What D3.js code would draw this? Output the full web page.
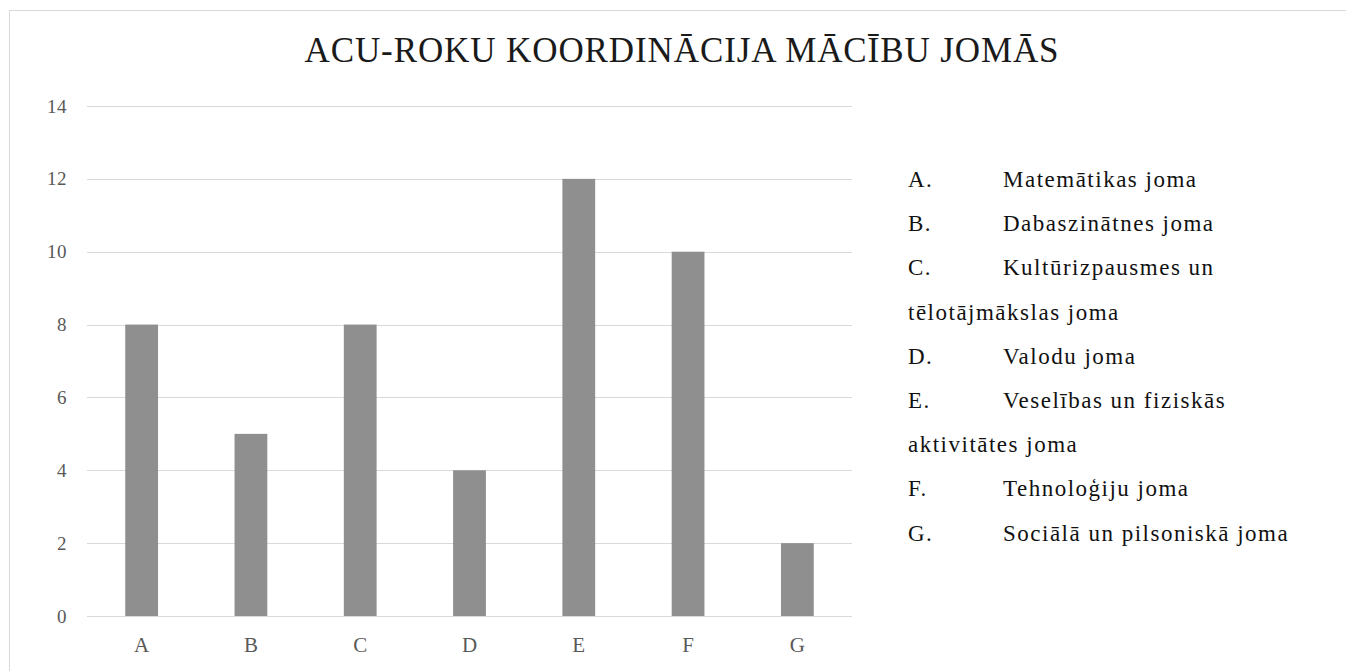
<!DOCTYPE html>
<html>
<head>
<meta charset="utf-8">
<script src="https://cdn.jsdelivr.net/npm/d3@7"></script>
<style>
  body { margin: 0; background: #fff; }
</style>
</head>
<body>
<div id="chart"></div>
<script>
// chart data
const categories = ["A", "B", "C", "D", "E", "F", "G"];
const values = [8, 5, 8, 4, 12, 10, 2];
const yTicks = [0, 2, 4, 6, 8, 10, 12, 14];
const titleText = "ACU-ROKU KOORDINĀCIJA MĀCĪBU JOMĀS";
// legend lines: [letter, text] (wrapped lines have no letter)
const legendLines = [
    ["A.", "Matemātikas joma"],
    ["B.", "Dabaszinātnes joma"],
    ["C.", "Kultūrizpausmes un"],
    ["", "tēlotājmākslas joma"],
    ["D.", "Valodu joma"],
    ["E.", "Veselības un fiziskās"],
    ["", "aktivitātes joma"],
    ["F.", "Tehnoloģiju  joma"],
    ["G.", "Sociālā un pilsoniskā joma"]
];

const W = 1346, H = 671;
const FONT = "'Liberation Serif', 'Times New Roman', 'DejaVu Serif', serif";

const svg = d3.select("#chart").append("svg")
    .attr("width", W)
    .attr("height", H)
    .style("font-family", FONT);

// outer chart border
svg.append("rect")
    .attr("x", 9.5).attr("y", 10.5)
    .attr("width", W).attr("height", H)
    .attr("fill", "none")
    .attr("stroke", "#d9d9d9");

// title
svg.append("text")
    .attr("x", 682).attr("y", 62)
    .attr("text-anchor", "middle")
    .attr("font-family", FONT)
    .style("font-size", "35px")
    .style("letter-spacing", "0.9px")
    .attr("fill", "#1a1a1a")
    .text(titleText);

const plot = { left: 87, right: 852, top: 106, bottom: 616 };

const x = d3.scaleBand()
    .domain(categories)
    .range([plot.left, plot.right])
    .padding(0);

const y = d3.scaleLinear()
    .domain([0, 14])
    .range([plot.bottom, plot.top]);

// gridlines
svg.append("g")
    .selectAll("line")
    .data(yTicks)
    .enter().append("line")
    .attr("x1", plot.left).attr("x2", plot.right)
    .attr("y1", d => Math.round(y(d)) + 0.5)
    .attr("y2", d => Math.round(y(d)) + 0.5)
    .attr("stroke", "#d9d9d9")
    .attr("stroke-width", 1);

// y tick labels
svg.append("g")
    .selectAll("text")
    .data(yTicks)
    .enter().append("text")
    .attr("x", 67)
    .attr("y", d => y(d) + 6.5)
    .attr("text-anchor", "end")
    .attr("font-family", FONT)
    .style("font-size", "19px")
    .style("letter-spacing", "0.5px")
    .attr("fill", "#595959")
    .text(d => d);

// bars
const barW = x.bandwidth() * 0.3;
svg.append("g")
    .selectAll("rect")
    .data(values)
    .enter().append("rect")
    .attr("x", (d, i) => x(categories[i]) + (x.bandwidth() - barW) / 2)
    .attr("y", d => y(d))
    .attr("width", barW)
    .attr("height", d => y(0) - y(d))
    .attr("fill", "#8f8f8f");

// x labels
svg.append("g")
    .selectAll("text")
    .data(categories)
    .enter().append("text")
    .attr("x", d => x(d) + x.bandwidth() / 2)
    .attr("y", 652)
    .attr("text-anchor", "middle")
    .attr("font-family", FONT)
    .style("font-size", "21px")
    .attr("fill", "#595959")
    .text(d => d);

// legend
const legend = svg.append("g")
    .attr("font-family", FONT)
    .style("font-size", "23px")
    .style("letter-spacing", "1.5px")
    .attr("fill", "#111");

legendLines.forEach((row, i) => {
    const ly = 187 + i * 44.2;
    if (row[0]) {
        legend.append("text")
            .attr("x", 908).attr("y", ly)
            .text(row[0]);
        legend.append("text")
            .attr("x", 1003).attr("y", ly)
            .text(row[1]);
    } else {
        legend.append("text")
            .attr("x", 908).attr("y", ly)
            .text(row[1]);
    }
});
</script>
</body>
</html>
